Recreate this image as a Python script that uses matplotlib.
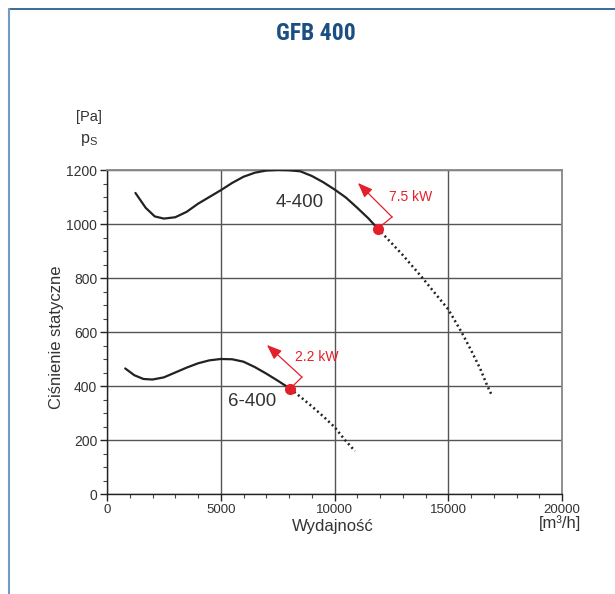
import matplotlib
matplotlib.use("Agg")
import matplotlib.pyplot as plt
from matplotlib.lines import Line2D
from matplotlib.ticker import MultipleLocator
from matplotlib import font_manager

plt.rcParams['font.family'] = ['Liberation Sans', 'DejaVu Sans']
plt.rcParams['mathtext.fontset'] = 'custom'
plt.rcParams['mathtext.rm'] = 'Liberation Sans'

# ---- data ----
x_4400 = [1250, 1700, 2100, 2500, 3000, 3500, 4000, 4500, 5000, 5500, 6000, 6500,
          7000, 7500, 8000, 8500, 9000, 9500, 10000, 10500, 11000, 11500, 11900]
y_4400 = [1115, 1060, 1028, 1020, 1025, 1045, 1075, 1100, 1125, 1152, 1175, 1190,
          1198, 1200, 1199, 1195, 1178, 1155, 1128, 1098, 1060, 1020, 983]
x_4400_ext = [11900, 12500, 13000, 13870, 14500, 15000, 15580, 16000, 16400, 16720, 16890]
y_4400_ext = [983, 930, 885, 800, 735, 684, 600, 533, 465, 400, 370]

x_6400 = [800, 1200, 1600, 2000, 2500, 3000, 3500, 4000, 4500, 5000, 5500, 6000,
          6500, 7000, 7500, 8050]
y_6400 = [465, 440, 426, 424, 432, 450, 468, 484, 495, 500, 499, 490, 470, 446, 420, 390]
x_6400_ext = [8050, 8500, 9000, 9500, 10000, 10460, 10900]
y_6400_ext = [390, 360, 325, 288, 248, 200, 159]

curve_names = ["4-400", "6-400"]
power_labels = ["7.5 kW", "2.2 kW"]
op_points = [(11900, 983), (8050, 390)]

x_ticks = [0, 5000, 10000, 15000, 20000]
y_ticks = [0, 200, 400, 600, 800, 1000, 1200]

fig = plt.figure(figsize=(6.15, 5.94), dpi=100)
ax = fig.add_axes([107/615, 1-494/594, 455/615, 324/594])

ax.set_xlim(0, 20000)
ax.set_ylim(0, 1200)
ax.set_xticks(x_ticks)
ax.set_yticks(y_ticks)
ax.xaxis.set_minor_locator(MultipleLocator(1000))
ax.yaxis.set_minor_locator(MultipleLocator(50))
ax.tick_params(which='major', direction='out', length=5, width=1, colors='#222222',
               labelcolor='#333333', pad=2)
ax.tick_params(axis='x', which='major', labelsize=9.5)
ax.tick_params(axis='y', which='major', labelsize=10)
ax.tick_params(which='minor', direction='out', length=3, width=0.8, colors='#444444')
ax.grid(True, which='major', color='#555555', linewidth=1.0)
ax.set_axisbelow(True)
for s in ['left', 'bottom']:
    ax.spines[s].set_color('#222222')
    ax.spines[s].set_linewidth(1.0)
for s in ['top', 'right']:
    ax.spines[s].set_color('#888888')
    ax.spines[s].set_linewidth(1.3)

# curves
ax.plot(x_4400, y_4400, color='#222222', lw=1.6, solid_capstyle='round',
        solid_joinstyle='round', zorder=3)
ax.plot(x_4400_ext, y_4400_ext, color='#222222', lw=1.8, linestyle=(0, (0.8, 1.2)), zorder=3)
ax.plot(x_6400, y_6400, color='#222222', lw=1.6, solid_capstyle='round',
        solid_joinstyle='round', zorder=3)
ax.plot(x_6400_ext, y_6400_ext, color='#222222', lw=1.8, linestyle=(0, (0.8, 1.2)), zorder=3)

red = '#e3202a'
# arrows
arrow_paths = [
    [(11900, 983), (12530, 1026), (11030, 1152)],
    [(8050, 390), (8570, 433), (7030, 552)],
]
for path in arrow_paths:
    (x0, y0), (x1, y1), (x2, y2) = path
    ax.plot([x0, x1], [y0, y1], color=red, lw=0.9, zorder=4)
    ax.annotate('', xy=(x2, y2), xytext=(x1, y1),
                arrowprops=dict(arrowstyle='-|>,head_length=0.9,head_width=0.35',
                                color=red, lw=0.9, shrinkA=0, shrinkB=0), zorder=4)

for (px, py) in op_points:
    ax.plot(px, py, 'o', color=red, markersize=8, zorder=5, markeredgewidth=0)

ax.text(13360, 1100, power_labels[0], color=red, fontsize=10, ha='center', va='center')
ax.text(9230, 507, power_labels[1], color=red, fontsize=10, ha='center', va='center')
ax.text(8480, 1081, curve_names[0], color='#333333', fontsize=13.5, ha='center', va='center')
ax.text(6370, 344, curve_names[1], color='#333333', fontsize=13.5, ha='center', va='center')

# axis labels
fig.text(57/615, 1-337/594, 'Ciśnienie statyczne', rotation=90, fontsize=12,
         color='#333333', ha='center', va='center')
fig.text(333/615, 1-527/594, 'Wydajność', fontsize=12, color='#333333',
         ha='center', va='center')
fig.text(560/615, 1-523/594, '[m³/h]', fontsize=12, color='#333333',
         ha='center', va='center')
fig.text(89/615, 1-117/594, '[Pa]', fontsize=10.5, color='#333333',
         ha='center', va='center')
fig.text(89/615, 1-140/594, r'p$_\mathrm{S}$', fontsize=11.5, color='#333333',
         ha='center', va='center')

# title: prefer a narrow bold face if installed
names = {f.name for f in font_manager.fontManager.ttflist}
title_fams = [n for n in ['Liberation Sans Narrow', 'Roboto Condensed', 'DejaVu Sans'] if n in names]
title_size = 17 if title_fams and title_fams[0] != 'DejaVu Sans' else 15
fig.text(316/615, 1-33/594, 'GFB 400', fontsize=title_size, fontweight='bold',
         family=title_fams or ['DejaVu Sans'], fontstretch='condensed',
         color='#1b4f82', ha='center', va='center')

# frame
fig.add_artist(Line2D([9/615, 1.0], [1-9/594, 1-9/594], transform=fig.transFigure,
                      color='#2a5f90', lw=1.3))
fig.add_artist(Line2D([9/615, 9/615], [1-9/594, 0], transform=fig.transFigure,
                      color='#6f9bc6', lw=1.5))

fig.savefig('out.png', dpi=100)
